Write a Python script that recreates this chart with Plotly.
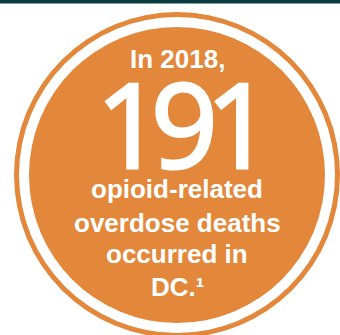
import plotly.graph_objects as go

# ---- data ----
year = [2018]
deaths = [191]
caption_lines = ["opioid-related", "overdose deaths", "occurred in", "DC.\u00b9"]

# ---- style ----
W, H = 340, 335
ORANGE = "#E3873A"
TEAL = "#0B3A40"
CX, CY = 177, 175
R_OUT, R_WHITE, R_IN = 163, 158, 148

fig = go.Figure()
fig.add_trace(go.Scatter(x=[0], y=[0], mode="markers", marker=dict(opacity=0), hoverinfo="skip", showlegend=False))

def circ(r, color):
    return dict(type="circle", xref="x", yref="y", x0=CX - r, x1=CX + r, y0=CY - r, y1=CY + r,
                fillcolor=color, line=dict(width=0), layer="below")

shapes = [
    dict(type="rect", xref="x", yref="y", x0=0, x1=W, y0=0, y1=3.6, fillcolor=TEAL, line=dict(width=0), layer="below"),
    circ(R_OUT, ORANGE), circ(R_WHITE, "white"), circ(R_IN, ORANGE),
]

BODY = dict(family="Arial, Liberation Sans, sans-serif", size=26, color="white", weight="bold")
annotations = [
    dict(text=f"In {year[0]},", x=CX, y=59, font=BODY),
    dict(text=f"<span style='letter-spacing:-12px;stroke:white;stroke-width:3px'>{deaths[0]}</span>",
         x=CX + 1, y=122,
         font=dict(family="Open Sans, sans-serif", size=117, color="white")),
]
baselines = [189, 223, 254, 287]
for line, yb in zip(caption_lines, baselines):
    annotations.append(dict(text=line, x=CX, y=yb, font=BODY))
for a in annotations:
    a.update(xref="x", yref="y", showarrow=False, xanchor="center", yanchor="middle")

fig.update_layout(
    width=W, height=H, margin=dict(l=0, r=0, t=0, b=0),
    paper_bgcolor="white", plot_bgcolor="white",
    xaxis=dict(range=[0, W], visible=False, fixedrange=True),
    yaxis=dict(range=[H, 0], visible=False, fixedrange=True),
    shapes=shapes, annotations=annotations, showlegend=False,
)
fig.write_html("out.html", config={"displayModeBar": False},
               post_script="document.body.style.margin='0';document.body.style.overflow='hidden';")
